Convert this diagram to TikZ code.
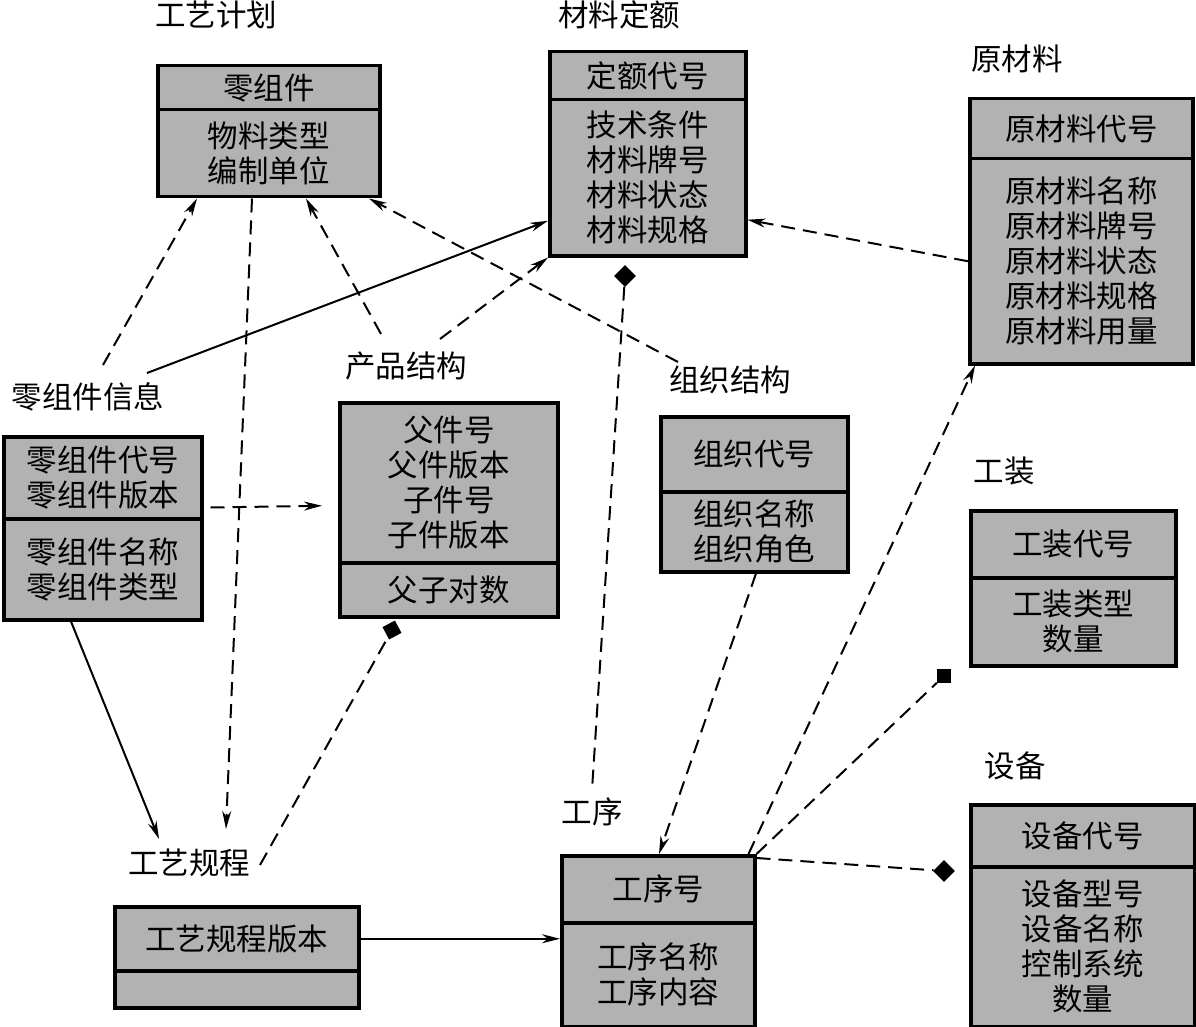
\documentclass[tikz,border=0pt]{standalone}
\usepackage{fontspec}
\newfontfamily\cjk{Noto Sans CJK SC}
\usetikzlibrary{arrows.meta,calc}
\definecolor{boxgray}{RGB}{178,178,178}
\begin{document}
\begin{tikzpicture}[x=1pt,y=-1pt,
  cell/.style={draw=black, line width=3.5pt, fill=boxgray, anchor=north west, inner sep=0pt, align=center, font=\cjk\fontsize{30.5}{35}\selectfont},
  lbl/.style={inner sep=0pt, font=\cjk\fontsize{30.5}{35}\selectfont},
  conn/.style={line width=2pt},
  dsh/.style={conn, dash pattern=on 14pt off 8pt},
  arr/.style={-{Stealth[length=18pt,width=9pt]}},
  sqmark/.style={fill=black, minimum size=14pt, inner sep=0pt, shape=rectangle},
  dmark/.style={fill=black, minimum size=15.5pt, inner sep=0pt, shape=rectangle, rotate=45},
]
\useasboundingbox (0,0) rectangle (1196,1027);

% labels
\node[lbl] (gyjh_l) at (216,15) {工艺计划};
\node[lbl] (cld_l) at (619,15) {材料定额};
\node[lbl] (ycl_l) at (1017,59) {原材料};
\node[lbl] (lzj_l) at (88,397) {零组件信息};
\node[lbl] (cpjg_l) at (406,366) {产品结构};
\node[lbl] (zzjg_l) at (730,380) {组织结构};
\node[lbl] (gz_l) at (1004,471) {工装};
\node[lbl] (sb_l) at (1015,766) {设备};
\node[lbl] (gx_l) at (592,812) {工序};
\node[lbl] (gygc_l) at (189,863) {工艺规程};

% boxes
\node[cell, minimum width=222pt, minimum height=44pt] (gyjh_h) at (156,64) {零组件};
\node[cell, minimum width=222pt, minimum height=87pt] (gyjh_b) at (156,108) {物料类型\\编制单位};

\node[cell, minimum width=196pt, minimum height=48pt] (cld_h) at (548,50) {定额代号};
\node[cell, minimum width=196pt, minimum height=156pt] (cld_b) at (548,98) {技术条件\\材料牌号\\材料状态\\材料规格};

\node[cell, minimum width=223pt, minimum height=60pt] (ycl_h) at (968,97) {原材料代号};
\node[cell, minimum width=223pt, minimum height=205pt] (ycl_b) at (968,157) {原材料名称\\原材料牌号\\原材料状态\\原材料规格\\原材料用量};

\node[cell, minimum width=198pt, minimum height=82pt] (lzj_h) at (2,435) {零组件代号\\零组件版本};
\node[cell, minimum width=198pt, minimum height=101pt] (lzj_b) at (2,517) {零组件名称\\零组件类型};

\node[cell, minimum width=218pt, minimum height=160pt] (cpjg_h) at (338,401) {父件号\\父件版本\\子件号\\子件版本};
\node[cell, minimum width=218pt, minimum height=54pt] (cpjg_b) at (338,561) {父子对数};

\node[cell, minimum width=187pt, minimum height=75pt] (zzjg_h) at (659,415) {组织代号};
\node[cell, minimum width=187pt, minimum height=80pt] (zzjg_b) at (659,490) {组织名称\\组织角色};

\node[cell, minimum width=205pt, minimum height=67pt] (gz_h) at (969,509) {工装代号};
\node[cell, minimum width=205pt, minimum height=88pt] (gz_b) at (969,576) {工装类型\\数量};

\node[cell, minimum width=224pt, minimum height=62pt] (sb_h) at (969,803) {设备代号};
\node[cell, minimum width=224pt, minimum height=160pt] (sb_b) at (969,865) {设备型号\\设备名称\\控制系统\\数量};

\node[cell, minimum width=193pt, minimum height=67pt] (gx_h) at (560,854) {工序号};
\node[cell, minimum width=193pt, minimum height=104pt] (gx_b) at (560,921) {工序名称\\工序内容};

\node[cell, minimum width=244pt, minimum height=64pt] (gygc_h) at (113,905) {工艺规程版本};
\node[cell, minimum width=244pt, minimum height=37pt] (gygc_b) at (113,969) {};

% markers
\node[sqmark, rotate=28] (m1) at (392,630) {};
\node[dmark] (m2) at (625,276) {};
\node[sqmark] (m3) at (944,676) {};
\node[dmark] (m4) at (944,871) {};

% connectors
\draw[dsh,arr] ($(lzj_l)+(15,-32)$) -- ($(gyjh_b.south west)+(41,0)$);
\draw[dsh,arr] ($(gyjh_b.south west)+(96,0)$) -- ($(gygc_l)+(37,-34)$);
\draw[dsh,arr] ($(cpjg_l)+(-25,-32)$) -- ($(gyjh_b.south west)+(150,0)$);
\draw[dsh,arr] ($(zzjg_l)+(-52,-18)$) -- ($(gyjh_b.south west)+(213,0)$);
\draw[conn,arr] ($(lzj_l)+(59,-24)$) -- ($(cld_b.west)+(0,43)$);
\draw[dsh,arr] ($(cpjg_l)+(34,-27)$) -- (cld_b.south west);
\draw[dsh,arr] (ycl_b.west) -- ($(cld_b.east)+(0,42)$);
\draw[dsh,arr] ($(lzj_h.south east)+(7,-13)$) -- ($(cpjg_h.west)+(-16,23)$);
\draw[conn,arr] ($(lzj_b.south west)+(69,0)$) -- ($(gygc_l)+(-30,-24)$);
\draw[dsh] ($(gygc_l)+(71,2)$) -- (m1);
\draw[conn,arr] (gygc_h.east) -- (gygc_h.east -| gx_b.west);
\draw[dsh] (m2) -- ($(gx_l)+(0,-22)$);
\draw[dsh,arr] ($(zzjg_b.south west)+(97,0)$) -- ($(gx_h.north west)+(99,0)$);
\draw[dsh,arr] ($(gx_h.north east)+(-8,0)$) -- ($(ycl_b.south west)+(7,0)$);
\draw[dsh] (gx_h.north east) -- (m3);
\draw[dsh] ($(gx_h.north east)+(0,4)$) -- (m4);
\end{tikzpicture}
\end{document}
